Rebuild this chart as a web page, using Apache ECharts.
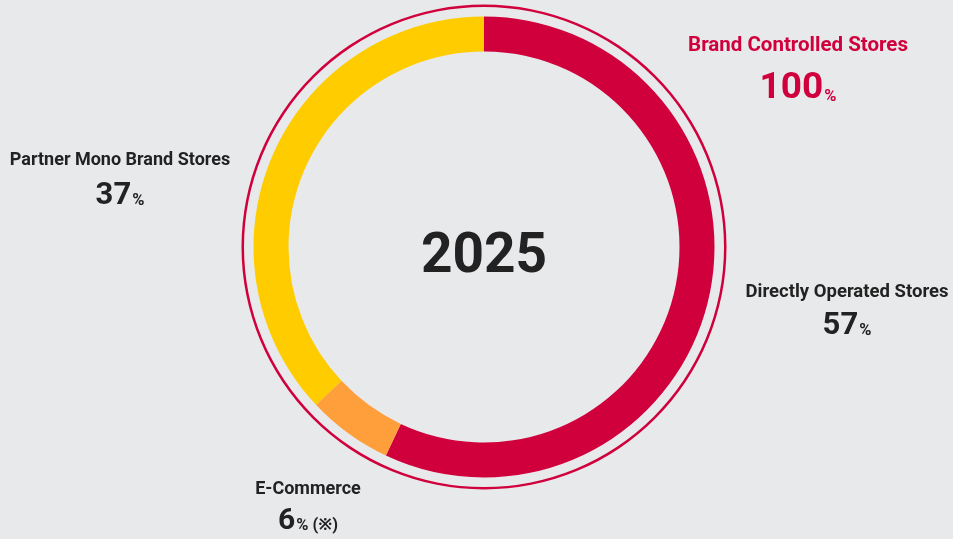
<!DOCTYPE html>
<html>
<head>
<meta charset="utf-8">
<style>
  html, body { margin: 0; padding: 0; background: #E8E9EB; }
  #chart { width: 953px; height: 539px; }
</style>
<script src="https://cdn.jsdelivr.net/npm/echarts@6/dist/echarts.min.js"></script>
</head>
<body>
<div id="chart"></div>
<script>
// Sales channel split for the year shown in the middle of the ring
const year = '2025';
const channels = ['Directly Operated Stores', 'E-Commerce', 'Partner Mono Brand Stores'];
const shares = [57, 6, 37];
const channelNotes = ['', ' (※)', ''];
const totalLabel = 'Brand Controlled Stores';
const totalShare = 100;

const RED = '#D0003C';
const YELLOW = '#FFCC00';
const ORANGE = '#FF9F3B';
const INK = '#222222';
const FONT = 'Roboto, "Noto Sans", sans-serif';

const chart = echarts.init(document.getElementById('chart'), null, { renderer: 'canvas' });

const center = [484, 247];

// Label layout: centre x, name middle y, value middle y, name size, value size
const layout = {
  'Directly Operated Stores':  { x: 847, ny: 292, vy: 326, ns: 18.5, vs: 31 },
  'E-Commerce':                { x: 308, ny: 489, vy: 521, ns: 18, vs: 30 },
  'Partner Mono Brand Stores': { x: 120, ny: 160, vy: 196, ns: 18, vs: 31 },
  'Brand Controlled Stores':   { x: 798, ny: 46, vy: 89, ns: 20.5, vs: 37 }
};

function labelGraphics(name, value, note, color, L) {
  return [
    {
      type: 'text', x: L.x, y: L.ny, silent: true,
      style: {
        text: name, fill: color, align: 'center', verticalAlign: 'middle',
        font: 'bold ' + L.ns + 'px ' + FONT
      }
    },
    {
      type: 'text', x: L.x, y: L.vy, silent: true,
      style: {
        text: '{num|' + value + '}{pct|%' + note + '}',
        fill: color,
        align: 'center', verticalAlign: 'middle',
        rich: {
          num: { fontSize: L.vs, fontWeight: 'bold', fontFamily: FONT, fill: color, lineHeight: L.vs, verticalAlign: 'bottom' },
          pct: { fontSize: 16.5, fontWeight: 'bold', fontFamily: FONT, fill: color, lineHeight: L.vs, verticalAlign: 'bottom', padding: [0, 0, 2, 1] }
        }
      }
    }
  ];
}

let graphics = [];
channels.forEach((c, i) => {
  graphics = graphics.concat(labelGraphics(c, shares[i], channelNotes[i], INK, layout[c]));
});
graphics = graphics.concat(labelGraphics(totalLabel, totalShare, '', RED, layout[totalLabel]));
graphics.push({
  type: 'text', x: center[0], y: center[1] + 11, silent: true,
  style: {
    text: year, fill: INK, align: 'center', verticalAlign: 'middle',
    font: 'bold 55px ' + FONT
  }
});

chart.setOption({
  backgroundColor: '#E8E9EB',
  animation: false,
  series: [
    {
      // thin outer ring: the brand-controlled total
      type: 'pie',
      center: center,
      radius: [240, 242.5],
      silent: true,
      label: { show: false },
      labelLine: { show: false },
      data: [{ name: totalLabel, value: totalShare, itemStyle: { color: RED } }]
    },
    {
      type: 'pie',
      center: center,
      radius: [195.5, 230.5],
      startAngle: 90,
      clockwise: true,
      silent: true,
      label: { show: false },
      labelLine: { show: false },
      itemStyle: { borderWidth: 0 },
      data: channels.map((c, i) => ({
        name: c,
        value: shares[i],
        itemStyle: { color: [RED, ORANGE, YELLOW][i] }
      }))
    }
  ],
  graphic: graphics
});
</script>
</body>
</html>
